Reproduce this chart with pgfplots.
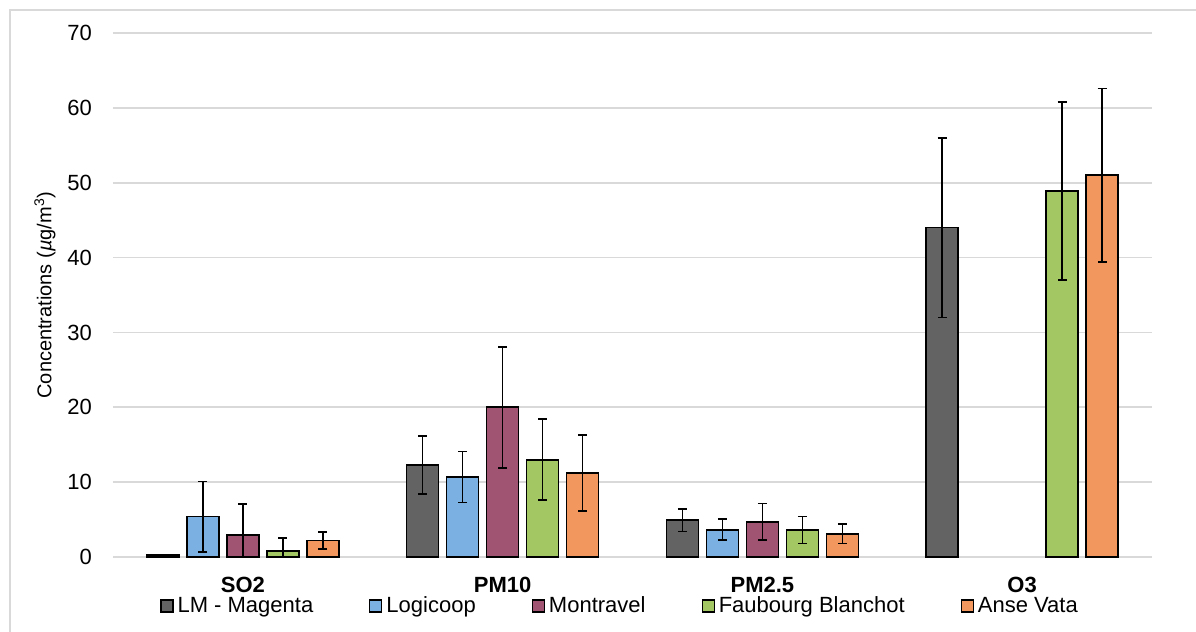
\documentclass[border=0pt]{standalone}
\usepackage{pgfplots}
\pgfplotsset{compat=1.18}
\usepackage{fontspec}
\setmainfont{Liberation Sans}
\definecolor{cLM}{HTML}{636363}
\definecolor{cLog}{HTML}{7BB0E2}
\definecolor{cMon}{HTML}{A05472}
\definecolor{cFau}{HTML}{A3C863}
\definecolor{cAns}{HTML}{F2985F}
\definecolor{gridc}{HTML}{D9D9D9}
\begin{document}
\begin{tikzpicture}
\useasboundingbox (-56.5pt,-37.5pt) rectangle (541.5pt,278.5pt);
\draw[gridc, line width=0.8pt] (-51.5pt,-37.5pt) -- (-51.5pt,273.5pt) -- (541.5pt,273.5pt);
\begin{axis}[
  at={(0,0)}, anchor=south west,
  scale only axis, width=519.5pt, height=262pt,
  ybar=4pt, bar width=16pt,
  xmin=-0.5, xmax=3.5, ymin=0, ymax=70,
  xtick={0,1,2,3}, xticklabels={SO2,PM10,PM2.5,O3},
  xticklabel style={font=\fontsize{11pt}{13pt}\selectfont\bfseries, yshift=-6.5pt},
  ytick={0,10,...,70},
  yticklabel style={font=\fontsize{11pt}{13pt}\selectfont, xshift=-7pt},
  /pgf/number format/assume math mode=true,
  major tick length=0pt,
  ymajorgrids, grid style={gridc, line width=0.9pt},
  axis line style={draw=none},
  ylabel={Concentrations (\textit{µ}g/m\textsuperscript{3})},
  every axis y label/.style={at={(axis description cs:0,0.5)}, xshift=-34pt, rotate=90, anchor=center, font=\fontsize{10pt}{12pt}\selectfont},
  legend columns=5,
  legend style={at={(0.489,0)}, anchor=center, yshift=-24.5pt, draw=none, fill=none,
    font=\fontsize{11pt}{13pt}\selectfont,
    /tikz/every even column/.append style={column sep=26pt}},
  legend image code/.code={\draw[#1, draw=black, line width=0.6pt] (0pt,-3pt) rectangle (6pt,3pt);},
  every axis plot/.append style={draw=black, line width=0.85pt},
  error bars/y dir=both, error bars/y explicit,
  error bars/error bar style={line width=0.85pt, black},
  error bars/error mark options={rotate=90, mark size=2.25pt, line width=0.85pt, black},
]
\addplot[fill=cLM] coordinates {(0,0.25) +- (0,0.05) (1,12.3) +- (0,3.9) (2,4.9) +- (0,1.5) (3,44.0) +- (0,12.0)};
\addplot[fill=cLog] coordinates {(0,5.4) +- (0,4.7) (1,10.7) +- (0,3.4) (2,3.65) +- (0,1.4)};
\addplot[fill=cMon] coordinates {(0,2.9) +- (0,4.2) (1,20.0) +- (0,8.1) (2,4.7) +- (0,2.45)};
\addplot[fill=cFau] coordinates {(0,0.8) +- (0,1.75) (1,13.0) +- (0,5.4) (2,3.6) +- (0,1.8) (3,48.9) +- (0,11.85)};
\addplot[fill=cAns] coordinates {(0,2.2) +- (0,1.15) (1,11.2) +- (0,5.1) (2,3.1) +- (0,1.3) (3,51.0) +- (0,11.6)};
\legend{LM - Magenta, Logicoop, Montravel, Faubourg Blanchot, Anse Vata}
\end{axis}
\end{tikzpicture}
\end{document}
